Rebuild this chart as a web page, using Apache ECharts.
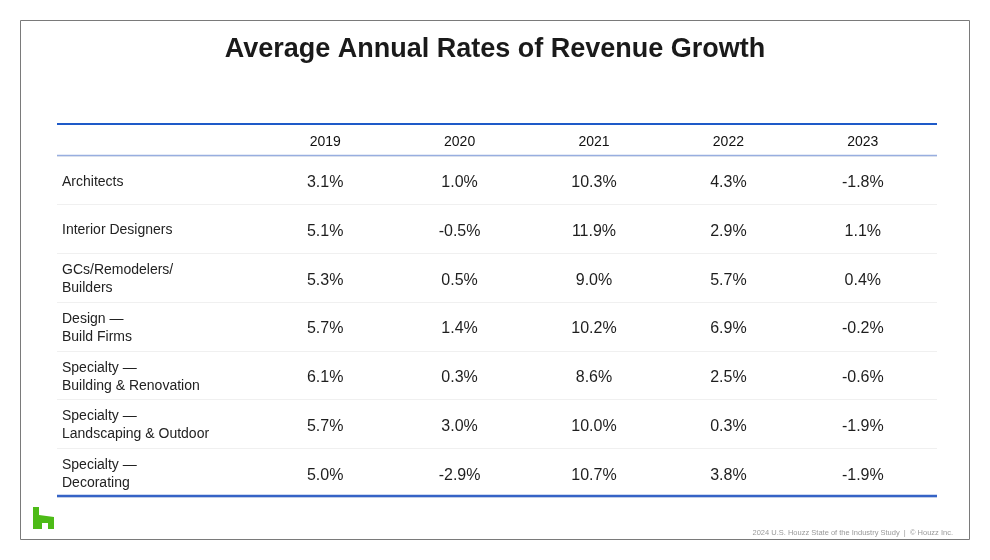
<!DOCTYPE html>
<html>
<head>
<meta charset="utf-8">
<script src="https://cdn.jsdelivr.net/npm/echarts@6/dist/echarts.min.js"></script>
<style>html,body{margin:0;padding:0;background:#fff;}#c{width:990px;height:560px;}</style>
</head>
<body>
<div id="c"></div>
<script>
const titleText = 'Average Annual Rates of Revenue Growth';
const years = ['2019', '2020', '2021', '2022', '2023'];
const rowLabels = [
  'Architects',
  'Interior Designers',
  'GCs/Remodelers/\nBuilders',
  'Design —\nBuild Firms',
  'Specialty —\nBuilding & Renovation',
  'Specialty —\nLandscaping & Outdoor',
  'Specialty —\nDecorating'
];
const v2019 = [3.1, 5.1, 5.3, 5.7, 6.1, 5.7, 5.0];
const v2020 = [1.0, -0.5, 0.5, 1.4, 0.3, 3.0, -2.9];
const v2021 = [10.3, 11.9, 9.0, 10.2, 8.6, 10.0, 10.7];
const v2022 = [4.3, 2.9, 5.7, 6.9, 2.5, 0.3, 3.8];
const v2023 = [-1.8, 1.1, 0.4, -0.2, -0.6, -1.9, -1.9];
const footerText = '2024 U.S. Houzz State of the Industry Study  |  © Houzz Inc.';

const columns = [v2019, v2020, v2021, v2022, v2023];
const cells = [];
columns.forEach((col, j) => col.forEach((v, i) => cells.push([j, i, v])));

const FONT = '"Liberation Sans", Arial, Helvetica, sans-serif';
const GRID_TOP = 156, GRID_H = 341;

const chart = echarts.init(document.getElementById('c'), null, {renderer: 'canvas'});
chart.setOption({
  backgroundColor: '#fff',
  animation: false,
  title: {
    text: titleText, left: 'center', top: 31,
    textStyle: {fontFamily: FONT, fontSize: 27, fontWeight: 'bold', color: '#1a1a1a'}
  },
  grid: [
    {left: 258, right: 60, top: GRID_TOP + 1.5, height: GRID_H},
    {left: 57, right: 53, top: GRID_TOP, height: GRID_H}
  ],
  xAxis: [
    {
      type: 'category', data: years, position: 'top', gridIndex: 0,
      axisLine: {show: false}, axisTick: {show: false}, splitLine: {show: false},
      axisLabel: {fontFamily: FONT, fontSize: 14, color: '#111', margin: 8.5}
    },
    {type: 'value', gridIndex: 1, show: false, min: 0, max: 1}
  ],
  yAxis: [
    {
      type: 'category', data: rowLabels, inverse: true, gridIndex: 0,
      axisLine: {show: false}, axisTick: {show: false}, splitLine: {show: false},
      axisLabel: {fontFamily: FONT, fontSize: 14, color: '#222', align: 'left', margin: 196, lineHeight: 18}
    },
    {
      type: 'category', data: rowLabels, inverse: true, gridIndex: 1,
      axisLine: {show: false}, axisTick: {show: false}, axisLabel: {show: false},
      splitLine: {show: true, interval: 0, lineStyle: {color: '#f0f0f0', width: 1}}
    }
  ],
  series: [{
    type: 'scatter', xAxisIndex: 0, yAxisIndex: 0,
    data: cells, symbolSize: 0, itemStyle: {color: '#1e1e1e', opacity: 1},
    label: {
      show: true, position: 'inside', fontFamily: FONT, fontSize: 16, color: '#1e1e1e',
      opacity: 1, textBorderWidth: 0, offset: [0, 1],
      formatter: p => p.value[2].toFixed(1) + '%'
    }
  }],
  graphic: [
    {type: 'rect', shape: {x: 20.5, y: 20.5, width: 949, height: 519}, style: {fill: null, stroke: '#7a7a7a', lineWidth: 1}, z: 100},
    {type: 'line', shape: {x1: 57, y1: 124, x2: 937, y2: 124}, style: {stroke: '#1e5ac8', lineWidth: 2.2}, z: 100},
    {type: 'line', shape: {x1: 57, y1: 155.5, x2: 937, y2: 155.5}, style: {stroke: '#98aee0', lineWidth: 1.5}, z: 100},
    {type: 'line', shape: {x1: 57, y1: 496, x2: 937, y2: 496}, style: {stroke: '#3563c6', lineWidth: 2.5}, z: 100},
    {type: 'polygon', shape: {points: [[33,507],[39,507],[39,515],[54,517],[54,529],[48,529],[48,523],[42,523],[42,529],[33,529]]}, style: {fill: '#4dbb17'}, z: 100},
    {type: 'text', right: 37, top: 529, style: {text: footerText, fontFamily: FONT, fontSize: 7.5, fill: '#999'}, z: 100}
  ]
});
</script>
</body>
</html>
